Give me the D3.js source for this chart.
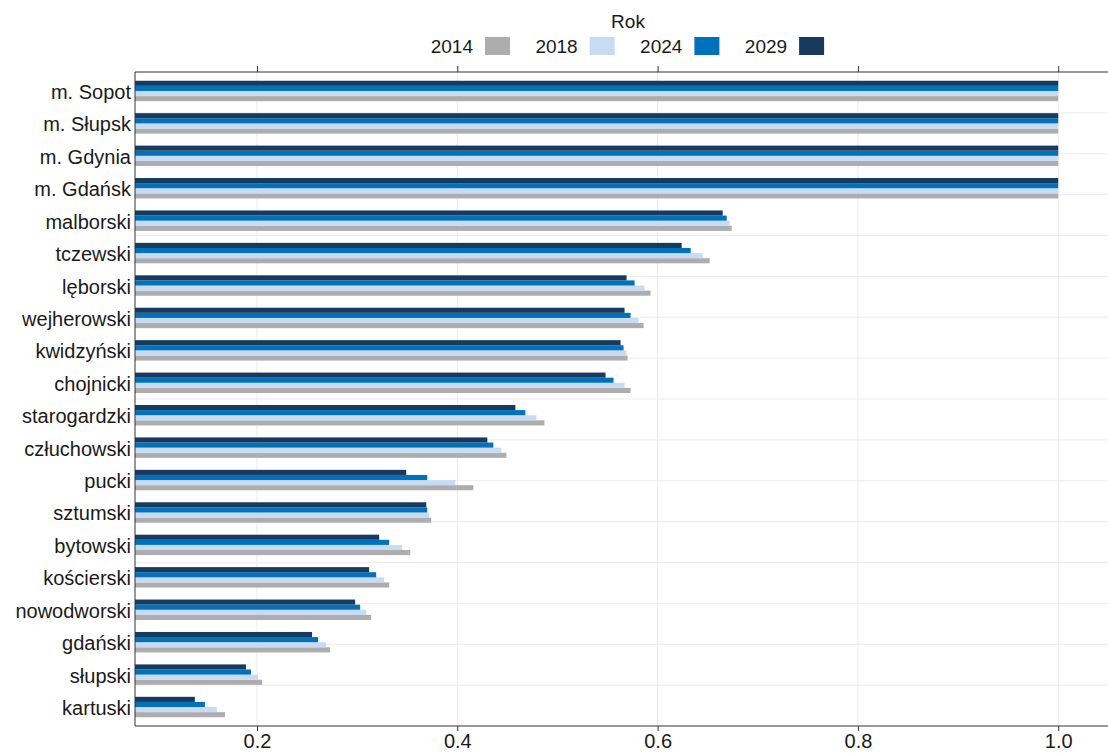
<!DOCTYPE html>
<html>
<head>
<meta charset="utf-8">
<script src="https://cdn.jsdelivr.net/npm/d3@7"></script>
<style>
  body { margin: 0; background: #fff; }
  text { font-family: "Liberation Sans", Arial, sans-serif; fill: #1a1a1a; }
</style>
</head>
<body>
<div id="chart"></div>
<script>
// categories top to bottom
const regions = ["m. Sopot", "m. Słupsk", "m. Gdynia", "m. Gdańsk", "malborski", "tczewski",
  "lęborski", "wejherowski", "kwidzyński", "chojnicki", "starogardzki", "człuchowski",
  "pucki", "sztumski", "bytowski", "kościerski", "nowodworski", "gdański", "słupski", "kartuski"];

const years = ["2014", "2018", "2024", "2029"];
const colors = ["#adadad", "#c8dbf5", "#0072bc", "#193a5f"];

const v2014 = [1, 1, 1, 1, 0.674, 0.652, 0.593, 0.586, 0.570, 0.573, 0.487, 0.449,
  0.416, 0.374, 0.353, 0.332, 0.314, 0.273, 0.205, 0.168];
const v2018 = [1, 1, 1, 1, 0.672, 0.645, 0.587, 0.581, 0.569, 0.567, 0.479, 0.444,
  0.398, 0.372, 0.345, 0.327, 0.309, 0.269, 0.201, 0.160];
const v2024 = [1, 1, 1, 1, 0.669, 0.633, 0.577, 0.573, 0.566, 0.556, 0.468, 0.436,
  0.370, 0.370, 0.332, 0.319, 0.303, 0.261, 0.194, 0.148];
const v2029 = [1, 1, 1, 1, 0.665, 0.624, 0.569, 0.567, 0.563, 0.548, 0.458, 0.430,
  0.349, 0.369, 0.322, 0.312, 0.298, 0.255, 0.189, 0.138];

const xTicks = [0.2, 0.4, 0.6, 0.8, 1.0];

const series = { "2014": v2014, "2018": v2018, "2024": v2024, "2029": v2029 };

const width = 1108, height = 754;
const margin = { top: 72, right: 0, bottom: 28, left: 135 };

const svg = d3.select("#chart").append("svg")
  .attr("width", width).attr("height", height);

const x = d3.scaleLinear().domain([0.0782, 1.0497]).range([margin.left, width - margin.right]);
const y = d3.scaleBand().domain(regions).range([margin.top, height - margin.bottom])
  .paddingInner(0.37).paddingOuter(0.27);
const yInner = d3.scaleBand().domain(["2029", "2024", "2018", "2014"]).range([0, y.bandwidth()]);
const color = d3.scaleOrdinal().domain(years).range(colors);

const plotTop = margin.top, plotBottom = height - margin.bottom;

// grid
const gy = d3.scaleLinear().domain([0, 16]).range([plotTop, plotBottom]);
svg.append("g").selectAll("line").data(d3.range(1, 16)).join("line")
  .attr("x1", margin.left).attr("x2", width)
  .attr("y1", d => gy(d)).attr("y2", d => gy(d))
  .attr("stroke", "#ebebeb").attr("stroke-width", 1);
svg.append("g").selectAll("line").data(xTicks).join("line")
  .attr("x1", d => x(d)).attr("x2", d => x(d))
  .attr("y1", plotTop).attr("y2", plotBottom)
  .attr("stroke", "#ebebeb").attr("stroke-width", 1);

// bars
const rows = regions.map((r, i) => ({ region: r, i }));
const groups = svg.append("g").selectAll("g").data(rows).join("g")
  .attr("transform", d => `translate(0,${y(d.region)})`);
groups.selectAll("rect")
  .data(d => years.map(yr => ({ year: yr, value: series[yr][d.i] })))
  .join("rect")
  .attr("x", x.range()[0])
  .attr("y", d => yInner(d.year))
  .attr("width", d => x(d.value) - x.range()[0])
  .attr("height", yInner.bandwidth())
  .attr("fill", d => color(d.year));

// axes
const bottomAxis = svg.append("g")
  .attr("transform", `translate(0,${plotBottom})`)
  .call(d3.axisBottom(x).tickValues(xTicks).tickFormat(d3.format(".1f")).tickSize(5).tickPadding(3));
bottomAxis.select(".domain").attr("stroke", "#333").attr("d", `M${margin.left},0H${width}`);
bottomAxis.selectAll(".tick line").attr("stroke", "#333");
bottomAxis.selectAll("text").style("font-size", "20px").attr("fill", "#1a1a1a");

const topAxis = svg.append("g")
  .attr("transform", `translate(0,${plotTop})`)
  .call(d3.axisTop(x).tickValues(xTicks).tickFormat("").tickSize(6));
topAxis.select(".domain").attr("stroke", "#333").attr("d", `M${margin.left},0H${width}`);
topAxis.selectAll(".tick line").attr("stroke", "#333");

const leftAxis = svg.append("g")
  .attr("transform", `translate(${margin.left},0)`)
  .call(d3.axisLeft(y).tickSize(0).tickPadding(4));
leftAxis.select(".domain").attr("stroke", "#333").attr("d", `M0,${plotTop}V${plotBottom}`);
leftAxis.selectAll("text").style("font-size", "20px").attr("dy", "0.4em").attr("fill", "#1a1a1a");

// legend
svg.append("text").attr("x", 628).attr("y", 28).attr("text-anchor", "middle")
  .style("font-size", "19px").text("Rok");
const leg = svg.append("g").selectAll("g").data(years).join("g")
  .attr("transform", (d, i) => `translate(${485 + i * 104.7},37)`);
leg.append("rect").attr("width", 25).attr("height", 18).attr("fill", d => color(d));
leg.append("text").attr("x", -12).attr("y", 16).attr("text-anchor", "end")
  .style("font-size", "19px").text(d => d);
</script>
</body>
</html>
